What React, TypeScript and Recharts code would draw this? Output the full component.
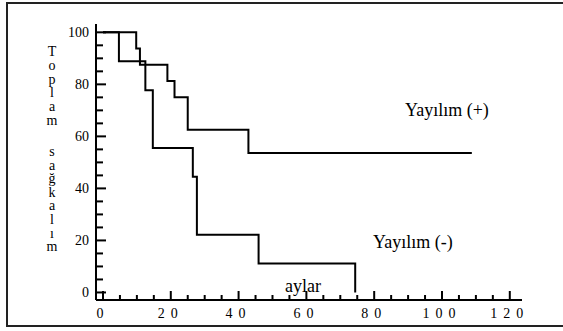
import React from 'react';
import { LineChart, Line, XAxis, YAxis, ReferenceLine } from 'recharts';

// Kaplan-Meier steps (x = months, y = % survival)
const spreadPositive = [
  { x: 0, y: 100 },
  { x: 9.8, y: 93.75 },
  { x: 10.9, y: 87.5 },
  { x: 19, y: 81.25 },
  { x: 21.1, y: 75 },
  { x: 25, y: 62.5 },
  { x: 42.9, y: 53.57 },
  { x: 108.8, y: 53.57 },
];

const spreadNegative = [
  { x: 0, y: 100 },
  { x: 4.7, y: 88.89 },
  { x: 12.5, y: 77.78 },
  { x: 14.7, y: 55.56 },
  { x: 26.5, y: 44.44 },
  { x: 27.7, y: 22.22 },
  { x: 45.9, y: 11.11 },
  { x: 74.4, y: 0 },
];

const xMajorTicks = [0, 20, 40, 60, 80, 100, 120];
const xAllTicks = [0, 5, 10, 15, 20, 25, 30, 35, 40, 45, 50, 55, 60, 65, 70, 75, 80, 85, 90, 95, 100, 105, 110, 115, 120];
const yMajorTicks = [0, 20, 40, 60, 80, 100];
const yAllTicks = [0, 5, 10, 15, 20, 25, 30, 35, 40, 45, 50, 55, 60, 65, 70, 75, 80, 85, 90, 95, 100];

const yTitleTop = ['T', 'o', 'p', 'l', 'a', 'm'];
const yTitleBottom = ['s', 'a', 'ğ', 'k', 'a', 'l', 'ı', 'm'];

const xMin = -2.06;
const xMax = 123.6;
const yMin = -2.9;
const yMax = 103.2;

// plot is 426 x 276 px; tick lengths are given in px and turned into axis units
const xUnitPx = 426 / (xMax - xMin);
const yUnitPx = 276 / (yMax - yMin);

const serif = '"Liberation Serif", "Times New Roman", serif';

function XLabel(props: any) {
  const { x, y, payload } = props;
  return (
    <text x={x} y={y + 18} textAnchor="middle" fontFamily={serif} fontSize={14} letterSpacing={6} fill="#000">
      {payload.value}
    </text>
  );
}

function YLabel(props: any) {
  const { x, y, payload } = props;
  return (
    <text x={x - 7} y={y} dy="0.35em" textAnchor="end" fontFamily={serif} fontSize={14} fill="#000">
      {payload.value}
    </text>
  );
}

const note = (left: number, top: number, size: number): React.CSSProperties => ({
  position: 'absolute',
  left,
  top,
  fontFamily: serif,
  fontSize: size,
  lineHeight: 1,
  whiteSpace: 'nowrap',
  color: '#000',
});

export default function App() {
  return (
    <div style={{ position: 'absolute', left: 0, top: 0, width: 563, height: 331, background: '#fff', overflow: 'hidden' }}>
      <div
        style={{
          position: 'absolute',
          left: 6,
          top: 2,
          width: 560,
          height: 325,
          boxSizing: 'border-box',
          border: '2px solid #222',
        }}
      />
      <div style={{ position: 'absolute', left: 0, top: 0 }}>
        <LineChart width={563} height={331} margin={{ top: 24, right: 41, bottom: 0, left: 0 }}>
          <XAxis
            type="number"
            dataKey="x"
            domain={[xMin, xMax]}
            allowDataOverflow
            ticks={xMajorTicks}
            interval={0}
            tickSize={0}
            tickMargin={0}
            tickLine={false}
            tick={<XLabel />}
            height={31}
            axisLine={{ stroke: '#000', strokeWidth: 2 }}
          />
          <YAxis
            type="number"
            domain={[yMin, yMax]}
            allowDataOverflow
            ticks={yMajorTicks}
            interval={0}
            tickSize={0}
            tickMargin={0}
            tickLine={false}
            tick={<YLabel />}
            width={96}
            axisLine={{ stroke: '#000', strokeWidth: 2 }}
          />
          <XAxis
            xAxisId="top"
            orientation="top"
            type="number"
            domain={[0, 1]}
            height={0}
            tick={false}
            tickLine={false}
            axisLine={{ stroke: '#000', strokeWidth: 1.5 }}
          />
          <YAxis
            yAxisId="right"
            orientation="right"
            type="number"
            domain={[0, 1]}
            width={0}
            tick={false}
            tickLine={false}
            axisLine={{ stroke: '#000', strokeWidth: 1.5 }}
          />
          {/* inward tick marks, long at every 20, short at every 5 */}
          {xAllTicks.map((v) => (
            <ReferenceLine
              key={'xt' + v}
              segment={[
                { x: v, y: yMin },
                { x: v, y: yMin + (v % 20 === 0 ? 9 : 5) / yUnitPx },
              ]}
              stroke="#000"
              strokeWidth={2}
              ifOverflow="visible"
            />
          ))}
          {yAllTicks.map((v) => (
            <ReferenceLine
              key={'yt' + v}
              segment={[
                { x: xMin, y: v },
                { x: xMin + (v % 20 === 0 ? 10 : 7) / xUnitPx, y: v },
              ]}
              stroke="#000"
              strokeWidth={2}
              ifOverflow="visible"
            />
          ))}
          <Line
            data={spreadPositive}
            dataKey="y"
            type="stepAfter"
            stroke="#000"
            strokeWidth={2}
            dot={false}
            isAnimationActive={false}
          />
          <Line
            data={spreadNegative}
            dataKey="y"
            type="stepAfter"
            stroke="#000"
            strokeWidth={2}
            dot={false}
            isAnimationActive={false}
          />
        </LineChart>
      </div>
      {yTitleTop.map((c, i) => (
        <div key={'t' + i} style={{ ...note(45, 45 + i * 13.8, 14), width: 14, textAlign: 'center' }}>
          {c}
        </div>
      ))}
      {yTitleBottom.map((c, i) => (
        <div key={'b' + i} style={{ ...note(45, 145 + i * 13.6, 14), width: 14, textAlign: 'center' }}>
          {c}
        </div>
      ))}
      <div style={note(405, 101, 18)}>Yayılım (+)</div>
      <div style={note(373, 233, 18)}>Yayılım (-)</div>
      <div style={note(285, 277, 18)}>aylar</div>
    </div>
  );
}
